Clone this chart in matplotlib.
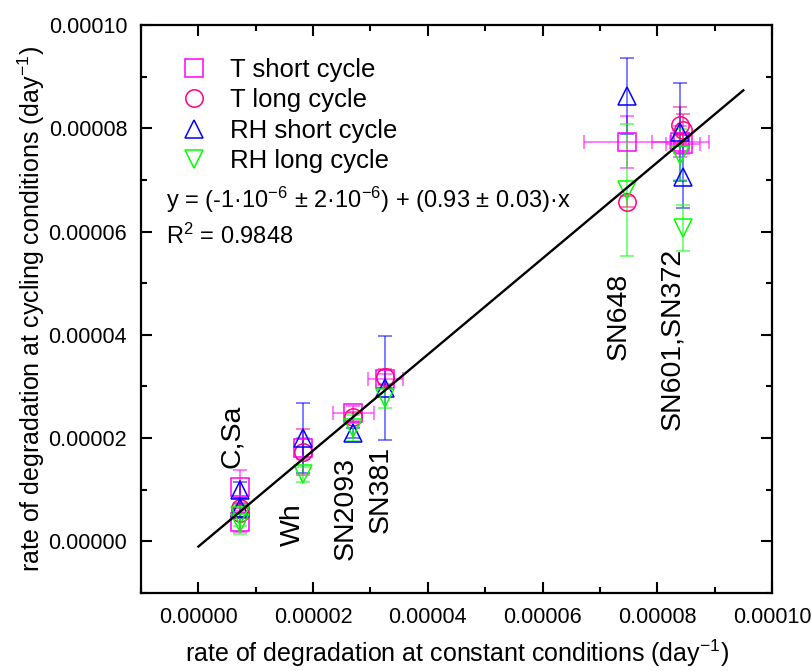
import matplotlib
matplotlib.use("Agg")
import matplotlib.pyplot as plt
from matplotlib.lines import Line2D
from matplotlib.ticker import MultipleLocator, FormatStrFormatter
import numpy as np

plt.rcParams['font.family'] = ['Liberation Sans', 'DejaVu Sans']
plt.rcParams['mathtext.fontset'] = 'custom'
plt.rcParams['mathtext.rm'] = 'Liberation Sans'
plt.rcParams['mathtext.it'] = 'Liberation Sans:italic'

samples = ['C', 'Sa', 'Wh', 'SN2093', 'SN381', 'SN648', 'SN601', 'SN372']
x_const = [7.3e-6, 7.3e-6, 1.83e-5, 2.70e-5, 3.26e-5, 7.47e-5, 8.40e-5, 8.45e-5]
x_err = [0.0, 0.0, 0.0, 0.36e-5, 0.31e-5, 0.75e-5, 0.50e-5, 0.30e-5]

t_short = [1.05e-5, 0.38e-5, 1.80e-5, 2.48e-5, 3.15e-5, 7.74e-5, 7.74e-5, 7.70e-5]
t_short_err = [0.33e-5, 0.20e-5, 0.20e-5, 0.15e-5, 0.10e-5, 0.50e-5, 0.30e-5, 0.20e-5]
t_long = [0.65e-5, 0.55e-5, 1.73e-5, 2.40e-5, 3.18e-5, 6.58e-5, 8.07e-5, 7.97e-5]
t_long_err = [0.10e-5, 0.10e-5, 0.45e-5, 0.10e-5, 0.15e-5, 0.10e-5, 0.35e-5, 0.30e-5]
rh_short = [1.00e-5, 0.65e-5, 2.00e-5, 2.10e-5, 2.97e-5, 8.63e-5, 7.93e-5, 7.06e-5]
rh_short_err = [0.15e-5, 0.20e-5, 0.68e-5, 0.10e-5, 1.00e-5, 0.74e-5, 0.95e-5, 0.60e-5]
rh_long = [0.50e-5, 0.35e-5, 1.30e-5, 2.20e-5, 2.78e-5, 6.80e-5, 7.49e-5, 6.07e-5]
rh_long_err = [0.20e-5, 0.20e-5, 0.15e-5, 0.25e-5, 0.20e-5, 1.28e-5, 0.50e-5, 0.45e-5]

fit_intercept = -1e-6
fit_slope = 0.93
fit_x = [0.0, 9.5e-5]

group_labels = ['C,Sa', 'Wh', 'SN2093', 'SN381', 'SN648', 'SN601,SN372']
group_x = [5.9e-6, 1.65e-5, 2.56e-5, 3.17e-5, 7.32e-5, 8.26e-5]
group_y = [1.42e-5, -0.08e-5, -0.36e-5, 0.16e-5, 3.51e-5, 2.16e-5]

fig = plt.figure(figsize=(8.11, 6.71), dpi=100)
ax = fig.add_axes([0.1739, 0.1162, 0.7780, 0.8465])

series = [
    (t_short, t_short_err, 's', '#FF00FF', 'T short cycle', True),
    (t_long, t_long_err, 'o', '#FF0080', 'T long cycle', False),
    (rh_short, rh_short_err, '^', '#0000FF', 'RH short cycle', False),
    (rh_long, rh_long_err, 'v', '#00FF00', 'RH long cycle', False),
]
handles = []
for vals, errs, mk, col, lab, with_x in series:
    ax.errorbar(x_const, vals, yerr=errs, xerr=x_err if with_x else None,
                fmt='none', ecolor=col, elinewidth=1.2, capsize=5, capthick=1.2,
                alpha=0.6, zorder=2)
    ax.plot(x_const, vals, linestyle='none', marker=mk, markersize=12.5,
            markerfacecolor='none', markeredgecolor=col, markeredgewidth=1.1, zorder=3)
    handles.append(Line2D([], [], linestyle='none', marker=mk, markersize=12.5,
                          markerfacecolor='none', markeredgecolor=col,
                          markeredgewidth=1.1, label=lab))

fx = np.array(fit_x)
ax.plot(fx, fit_intercept + fit_slope * fx, color='black', lw=1.7, zorder=4)

for lab, gx, gy in zip(group_labels, group_x, group_y):
    ax.text(gx, gy, lab, rotation=90, ha='center', va='bottom', fontsize=20.5)

ax.legend(handles=handles, loc='upper left', bbox_to_anchor=(0.035, 0.969),
          frameon=False, fontsize=18.5, handletextpad=0.8, labelspacing=0.25,
          borderaxespad=0.2, handlelength=1.2)

ax.text(0.04, 0.692, r'y = (-1·10$^{-6}$ ± 2·10$^{-6}$) + (0.93 ± 0.03)·x',
        transform=ax.transAxes, fontsize=17, ha='left', va='center')
ax.text(0.04, 0.628, r'R$^{2}$ = 0.9848', transform=ax.transAxes,
        fontsize=17, ha='left', va='center')

ax.set_xlim(-1e-5, 1e-4)
ax.set_ylim(-1e-5, 1e-4)
ax.xaxis.set_major_locator(MultipleLocator(2e-5))
ax.xaxis.set_minor_locator(MultipleLocator(1e-5))
ax.yaxis.set_major_locator(MultipleLocator(2e-5))
ax.yaxis.set_minor_locator(MultipleLocator(1e-5))
ax.xaxis.set_major_formatter(FormatStrFormatter('%.5f'))
ax.yaxis.set_major_formatter(FormatStrFormatter('%.5f'))
ax.tick_params(which='both', direction='in', top=True, right=True, width=1.5,
               labelsize=15.5)
ax.tick_params(which='major', length=8, pad=10)
ax.tick_params(which='minor', length=4)
for s in ax.spines.values():
    s.set_linewidth(1.6)

ax.set_xlabel('rate of degradation at constant conditions (day$^{-1}$)',
              fontsize=18, labelpad=7)
ax.set_ylabel('rate of degradation at cycling conditions (day$^{-1}$)',
              fontsize=18, labelpad=1)

fig.savefig('out.png', dpi=100)
